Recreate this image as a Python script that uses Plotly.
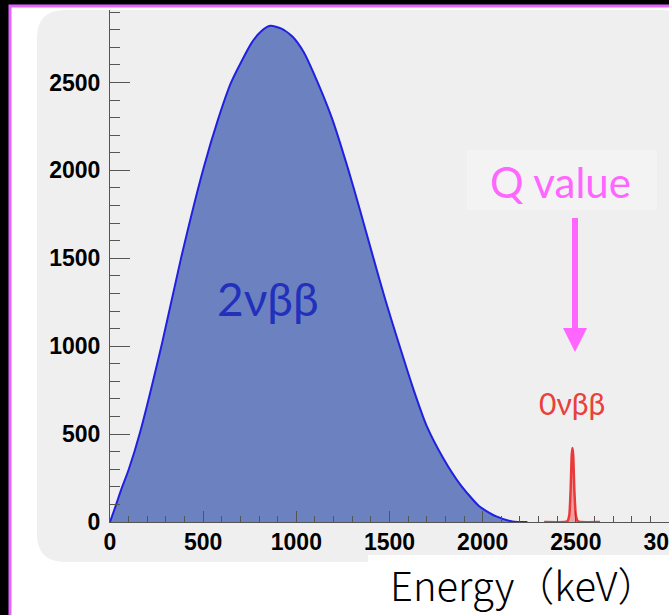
import plotly.graph_objects as go

# ---- data ----
energy_2nu = [0, 30, 60, 100, 160, 280, 380, 500, 580, 650, 760, 810, 860, 920, 980, 1040, 1090, 1190,
              1280, 1340, 1410, 1480, 1550, 1630, 1700, 1790, 1880, 1980, 2070, 2160, 2240]
counts_2nu = [0, 90, 184, 297, 505, 1020, 1495, 2005, 2290, 2500, 2725, 2790, 2822, 2806, 2760, 2672, 2560, 2300,
              2000, 1780, 1515, 1255, 1015, 750, 545, 360, 213, 91, 33, 3, 0]

energy_0nu = [2330, 2440, 2455, 2465, 2472, 2478, 2482, 2486, 2492, 2500, 2510, 2525, 2630]
counts_0nu = [0, 0, 5, 40, 180, 380, 421, 380, 180, 40, 5, 0, 0]

x_tickvals = [0, 500, 1000, 1500, 2000, 2500, 3000]
y_tickvals = [0, 500, 1000, 1500, 2000, 2500]

# ---- geometry helpers (pixel -> paper) ----
W, H = 669, 615
ML, MR, MT, MB = 110, 0, 10, 93
PW, PH = W - ML - MR, H - MT - MB
XMAX, YMAX = 3000, 2912


def px(x):
    return (x - ML) / PW


def py(y):
    return (H - MB - y) / PH


def ex(x):  # pixel -> data x
    return (x - ML) / PW * XMAX


def cy(y):  # pixel -> data y
    return (H - MB - y) / PH * YMAX


fig = go.Figure()
fig.add_trace(go.Scatter(
    x=energy_2nu, y=counts_2nu, mode="lines", line=dict(color="#2020e0", width=2, shape="spline", smoothing=0.6),
    fill="tozeroy", fillcolor="#6c82c0", showlegend=False, hoverinfo="skip"))
fig.add_trace(go.Scatter(
    x=energy_0nu, y=counts_0nu, mode="lines", line=dict(color="#e83a3a", width=2.5, shape="spline", smoothing=0.5),
    fill="tozeroy", fillcolor="rgba(240,130,130,0.75)", showlegend=False, hoverinfo="skip"))


def rounded_rect(x0, y0, x1, y1, r):
    X0, X1 = px(x0), px(x1)
    Y0, Y1 = py(y0), py(y1)  # Y0 top, Y1 bottom
    rx, ry = r / PW, r / PH
    return (f"M {X0+rx},{Y0} L {X1-rx},{Y0} Q {X1},{Y0} {X1},{Y0-ry} "
            f"L {X1},{Y1+ry} Q {X1},{Y1} {X1-rx},{Y1} L {X0+rx},{Y1} "
            f"Q {X0},{Y1} {X0},{Y1+ry} L {X0},{Y0-ry} Q {X0},{Y0} {X0+rx},{Y0} Z")


shapes = [
    dict(type="rect", xref="paper", yref="paper", x0=px(10), x1=px(720), y0=py(720), y1=py(6),
         fillcolor="white", line=dict(color="#e066ff", width=3), layer="below"),
    dict(type="path", xref="paper", yref="paper", path=rounded_rect(37, 10, 690, 562, 28),
         fillcolor="#efefef", line=dict(width=0), layer="below"),
    dict(type="rect", xref="paper", yref="paper", x0=px(467), x1=px(657), y0=py(210), y1=py(150),
         fillcolor="#f3f3f3", line=dict(width=0), layer="below"),
    dict(type="rect", xref="paper", yref="paper", x0=px(368), x1=px(720), y0=py(720), y1=py(555),
         fillcolor="white", line=dict(width=0), layer="below"),
    # Q value arrow
    dict(type="rect", xref="x", yref="y", x0=ex(572), x1=ex(578), y0=cy(330), y1=cy(218),
         fillcolor="#ff66ff", line=dict(width=0), layer="above"),
    dict(type="path", xref="x", yref="y",
         path=f"M {ex(563)},{cy(328)} L {ex(587)},{cy(328)} L {ex(575)},{cy(352)} Z",
         fillcolor="#ff66ff", line=dict(width=0), layer="above"),
]

annotations = [
    dict(x=ex(268), y=cy(298), xref="x", yref="y", text="2νββ", showarrow=False,
         xanchor="center", yanchor="middle",
         font=dict(family="Lato, Noto Sans", size=46, color="#2230bb")),
    dict(x=ex(560), y=cy(182), xref="x", yref="y", text="Q value", showarrow=False,
         xanchor="center", yanchor="middle",
         font=dict(family="Lato, Noto Sans", size=42, color="#ff66ff")),
    dict(x=ex(572), y=cy(403), xref="x", yref="y", text="0νββ", showarrow=False,
         xanchor="center", yanchor="middle",
         font=dict(family="Lato, Noto Sans", size=30, color="#e8403a")),
    dict(x=px(524), y=py(584), xref="paper", yref="paper", text="Energy（keV）", showarrow=False,
         xanchor="center", yanchor="middle", borderpad=0,
         font=dict(family="Noto Sans CJK SC", size=40, color="black", weight=300)),
]

tickfont = dict(family="Liberation Sans, Arial", size=23, color="black", weight="bold")

fig.update_layout(
    width=W, height=H,
    margin=dict(l=ML, r=MR, t=MT, b=MB, pad=0),
    paper_bgcolor="black", plot_bgcolor="rgba(0,0,0,0)",
    shapes=shapes, annotations=annotations, showlegend=False,
    xaxis=dict(range=[0, XMAX], tickvals=x_tickvals, ticks="inside", ticklen=11, tickcolor="#555",
               showline=True, linecolor="#555", linewidth=1, showgrid=False, zeroline=False,
               minor=dict(ticks="inside", ticklen=6, dtick=100, tick0=0, tickcolor="#555", showgrid=False),
               tickfont=tickfont, ticklabeloverflow="allow", ticklabelstandoff=-1, automargin=False),
    yaxis=dict(range=[0, YMAX], tickvals=y_tickvals, ticks="inside", ticklen=20, tickcolor="#555",
               showline=True, linecolor="#555", linewidth=1, showgrid=False, zeroline=False,
               minor=dict(ticks="inside", ticklen=10, dtick=100, tick0=0, tickcolor="#555", showgrid=False),
               tickfont=tickfont, ticklabelstandoff=4, automargin=False),
)

fig.write_html("out.html")
